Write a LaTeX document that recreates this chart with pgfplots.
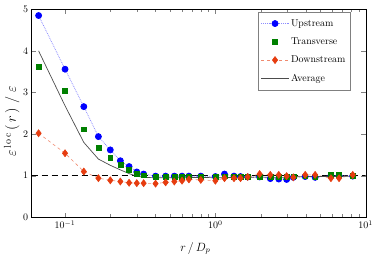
\documentclass[border=0pt]{standalone}
\usepackage{fontspec}
\usepackage{pgfplots}
\pgfplotsset{compat=1.18}
\definecolor{cup}{RGB}{0,0,255}
\definecolor{ctr}{RGB}{0,128,0}
\definecolor{cdn}{RGB}{230,60,15}
\begin{document}
\begin{tikzpicture}
\begin{axis}[
  scale only axis,
  width=334bp, height=208bp,
  xmode=log, xmin=0.06, xmax=10,
  ymin=0, ymax=5, ytick={0,1,2,3,4,5},
  xtick={0.1,1,10},
  tick label style={font=\normalsize},
  every axis x label/.style={at={(rel axis cs:0.49,0)}, anchor=center, yshift=-31bp, font=\large},
  every axis y label/.style={at={(rel axis cs:0,0.46)}, anchor=center, xshift=-20bp, rotate=90, font=\Large},
  xlabel={$r\,/\,D_p$},
  ylabel={$\varepsilon^{\,\mathrm{l\,o\,c}}\,(\,r\,)\;/\;\varepsilon$},
  legend style={at={(rel axis cs:0.955,0.986)}, anchor=north east, draw=gray, font=\addfontfeatures{LetterSpace=12}, row sep=6bp, inner xsep=3bp, inner ysep=5bp},
  legend cell align=left,
  legend image code/.code={\draw[mark repeat=2,mark phase=2] plot coordinates {(0cm,0cm) (0.48cm,0cm) (0.96cm,0cm)};},
]
\addplot[black, line width=1.3pt, dash pattern=on 6bp off 4bp, forget plot] coordinates {(0.06,1) (10,1)};
\addplot[cup!45, densely dotted, line width=0.8pt, mark=*, mark size=3bp, mark options={solid, cup, draw=cup, fill=cup}] coordinates {
(0.0667,4.85) (0.1,3.56) (0.1333,2.66) (0.1667,1.94) (0.2,1.62) (0.2333,1.36) (0.2667,1.22) (0.3,1.09) (0.3333,1.04)
(0.4,0.99) (0.4667,0.99) (0.5333,0.99) (0.6,0.99) (0.6667,0.99) (0.8,0.99) (1.0,0.98) (1.15,1.04) (1.33,0.99)
(1.47,0.98) (1.64,0.97) (1.97,0.97) (2.32,0.93) (2.64,0.92) (2.98,0.91) (3.3,0.96) (3.96,0.98) (4.61,0.96)
(5.87,1.0) (6.65,1.0) (8.2,0.99)};
\addlegendentry{Upstream}
\addplot[only marks, mark=square*, mark size=2.4bp, color=ctr] coordinates {
(0.0667,3.62) (0.1,3.04) (0.1333,2.12) (0.1667,1.67) (0.2,1.43) (0.2333,1.27) (0.2667,1.14) (0.3,1.04) (0.3333,1.01)
(0.4,0.97) (0.4667,0.97) (0.5333,0.97) (0.6,0.97) (0.6667,0.98) (0.8,0.98) (1.0,0.98) (1.15,0.99) (1.33,0.98)
(1.47,0.97) (1.64,0.97) (1.97,0.98) (2.32,0.97) (2.64,0.97) (2.98,0.98) (3.3,0.99) (3.96,0.99) (4.61,0.98)
(5.87,1.02) (6.65,1.02) (8.2,1.0)};
\addlegendentry{Transverse}
\addplot[cdn!60, dashed, line width=0.6pt, mark=diamond*, mark size=3.5bp, mark options={solid, cdn, draw=cdn, fill=cdn}] coordinates {
(0.0667,2.02) (0.1,1.54) (0.1333,1.10) (0.1667,0.94) (0.2,0.89) (0.2333,0.86) (0.2667,0.83) (0.3,0.82) (0.3333,0.82)
(0.4,0.81) (0.4667,0.84) (0.5333,0.86) (0.6,0.88) (0.6667,0.91) (0.8,0.90) (1.0,0.88) (1.15,0.94) (1.33,0.94)
(1.47,0.94) (1.64,0.97) (1.97,1.04) (2.32,1.02) (2.64,1.02) (2.98,0.99) (3.3,0.96) (3.96,1.02) (4.61,1.02)
(5.87,0.94) (6.65,0.94) (8.2,1.02)};
\addlegendentry{Downstream}
\addplot[black!70, line width=0.7pt] coordinates {
(0.0667,4.0) (0.1,2.68) (0.1333,1.80) (0.1667,1.40) (0.2,1.25) (0.2333,1.14) (0.2667,1.05) (0.3,0.99) (0.3333,0.96)
(0.4,0.95) (0.5,0.95) (0.6,0.95) (0.8,0.96) (1.0,0.95) (1.33,0.96) (1.64,0.96) (1.97,0.97) (2.32,0.96) (2.98,0.96)
(3.3,0.97) (3.96,0.98) (4.61,0.98) (5.87,0.98) (6.65,0.98) (8.2,0.99)};
\addlegendentry{Average}
\end{axis}
\pgfresetboundingbox
\path[use as bounding box] (-31.7bp,-40.7bp) rectangle (342.3bp,217.3bp);
\end{tikzpicture}
\end{document}
